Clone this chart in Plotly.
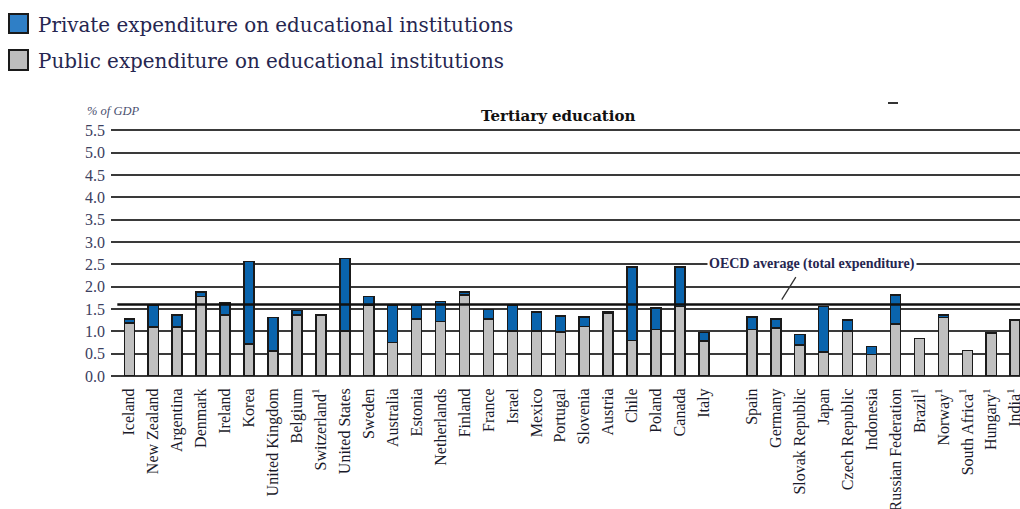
import plotly.graph_objects as go

countries = ["Iceland", "New Zealand", "Argentina", "Denmark", "Ireland", "Korea",
             "United Kingdom", "Belgium", "Switzerland", "United States", "Sweden",
             "Australia", "Estonia", "Netherlands", "Finland", "France", "Israel",
             "Mexico", "Portugal", "Slovenia", "Austria", "Chile", "Poland", "Canada",
             "Italy", " ", "Spain", "Germany", "Slovak Republic", "Japan",
             "Czech Republic", "Indonesia", "Russian Federation", "Brazil", "Norway",
             "South Africa", "Hungary", "India"]
tick_labels = ["Iceland", "New Zealand", "Argentina", "Denmark", "Ireland", "Korea",
               "United Kingdom", "Belgium", "Switzerland<sup>1</sup>", "United States", "Sweden",
               "Australia", "Estonia", "Netherlands", "Finland", "France", "Israel",
               "Mexico", "Portugal", "Slovenia", "Austria", "Chile", "Poland", "Canada",
               "Italy", " ", "Spain", "Germany", "Slovak Republic", "Japan",
               "Czech Republic", "Indonesia", "Russian Federation", "Brazil<sup>1</sup>",
               "Norway<sup>1</sup>", "South Africa<sup>1</sup>", "Hungary<sup>1</sup>",
               "India<sup>1</sup>"]
public = [1.19, 1.10, 1.10, 1.78, 1.37, 0.72, 0.56, 1.37, 1.37, 1.01, 1.58,
          0.75, 1.28, 1.22, 1.81, 1.28, 1.01, 1.01, 0.99, 1.11, 1.40, 0.80, 1.04, 1.56,
          0.78, None, 1.04, 1.07, 0.69, 0.54, 1.01, 0.48, 1.16, 0.84, 1.31,
          0.57, 0.95, 1.26]
private = [0.09, 0.48, 0.27, 0.10, 0.27, 1.85, 0.75, 0.10, None, 1.62, 0.20,
           0.83, 0.30, 0.45, 0.07, 0.21, 0.57, 0.42, 0.35, 0.21, 0.03, 1.64, 0.48, 0.88,
           0.19, None, 0.28, 0.21, 0.24, 1.02, 0.24, 0.18, 0.66, None, 0.06,
           None, 0.02, None]
oecd_average = 1.6
y_ticks = [0.0, 0.5, 1.0, 1.5, 2.0, 2.5, 3.0, 3.5, 4.0, 4.5, 5.0, 5.5]

SERIF = "Liberation Serif"
WIDE_SERIF = "DejaVu Serif"
TEXT = "#262650"
W, H = 1020, 509
L, R, T, B = 111, 0, 126, 133


def px(xp):
    return (xp - L) / (W - L - R)


def py(yp):
    return (H - B - yp) / (H - T - B)


fig = go.Figure()
fig.add_trace(go.Bar(x=countries, y=public, name="Public expenditure on educational institutions",
                     marker=dict(color="#c0c0c0", line=dict(color="#1a1a1a", width=1.5)),
                     width=0.42))
fig.add_trace(go.Bar(x=countries, y=private, name="Private expenditure on educational institutions",
                     marker=dict(color="#0a64ad", line=dict(color="#1a1a1a", width=1.5)),
                     width=0.42))

shapes = [
    dict(type="line", xref="x", yref="y", x0=-0.5, x1=40, y0=oecd_average, y1=oecd_average,
         line=dict(color="#111111", width=2.5), layer="above"),
    dict(type="rect", xref="paper", yref="paper", x0=px(9), x1=px(28), y0=py(33), y1=py(14),
         fillcolor="#2f7fc6", line=dict(color="#1a1a1a", width=2)),
    dict(type="rect", xref="paper", yref="paper", x0=px(9), x1=px(28), y0=py(70), y1=py(50),
         fillcolor="#bdbdbd", line=dict(color="#1a1a1a", width=2)),
    dict(type="line", xref="paper", yref="paper", x0=px(888), x1=px(898), y0=py(103), y1=py(103),
         line=dict(color="#333333", width=2)),
]

annotations = [
    dict(xref="paper", yref="paper", x=px(36), y=py(25), xanchor="left", yanchor="middle",
         text="Private expenditure on educational institutions", showarrow=False,
         font=dict(family=WIDE_SERIF, size=19.9, color=TEXT)),
    dict(xref="paper", yref="paper", x=px(36), y=py(61), xanchor="left", yanchor="middle",
         text="Public expenditure on educational institutions", showarrow=False,
         font=dict(family=WIDE_SERIF, size=19.9, color=TEXT)),
    dict(xref="paper", yref="paper", x=px(558), y=py(116), xanchor="center", yanchor="middle",
         text="<b>Tertiary education</b>", showarrow=False,
         font=dict(family=WIDE_SERIF, size=15, color="#111111")),
    dict(xref="paper", yref="paper", x=px(85), y=py(111), xanchor="left", yanchor="middle",
         text="<i>% of GDP</i>", showarrow=False,
         font=dict(family=SERIF, size=12.5, color="#4a5070")),
    dict(xref="x", yref="y", x=28.5, y=2.5, xanchor="center", yanchor="middle",
         text="<b>OECD average (total expenditure)</b>", showarrow=False,
         bgcolor="white", borderpad=1,
         font=dict(family=SERIF, size=14, color=TEXT)),
    dict(xref="x", yref="y", x=27.25, y=1.71, ax=15, ay=-24, text="", showarrow=True,
         arrowhead=0, arrowwidth=1.3, arrowcolor="#333333"),
]

fig.update_layout(
    width=W, height=H,
    margin=dict(l=L, r=R, t=T, b=B),
    paper_bgcolor="white", plot_bgcolor="white",
    barmode="stack", showlegend=False,
    shapes=shapes, annotations=annotations,
    font=dict(family=SERIF, color="#1a1a2a"),
)
fig.update_xaxes(type="category", categoryorder="array", categoryarray=countries,
                 tickmode="array", tickvals=countries, ticktext=tick_labels,
                 tickangle=-90, range=[-0.764, 37.2], showgrid=False, automargin=False,
                 ticks="outside", ticklen=5, tickcolor="white",
                 tickfont=dict(family=SERIF, size=16, color="#1a1a2a"))
fig.update_yaxes(range=[0, 5.6], tickmode="array", tickvals=y_ticks,
                 ticktext=[f"{v:.1f}" for v in y_ticks], automargin=False,
                 showgrid=True, gridcolor="#3a3a3a", gridwidth=1.5,
                 zeroline=True, zerolinecolor="#3a3a3a", zerolinewidth=1.5,
                 ticklabelstandoff=5,
                 tickfont=dict(family=SERIF, size=16, color="#3b4060"))

fig.write_html("out.html", config={"displayModeBar": False},
               post_script="document.body.style.margin='0';document.body.style.padding='0';")
